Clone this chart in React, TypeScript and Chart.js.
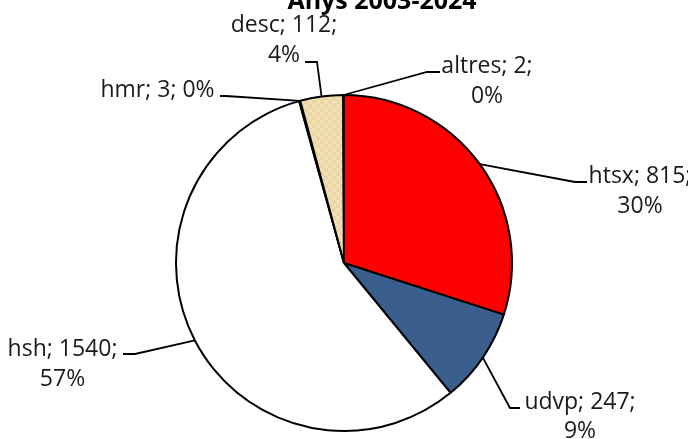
import React, { useEffect, useRef } from "react";
import { Chart, registerables } from "chart.js";

Chart.register(...registerables);

const TITLE = "Anys 2003-2024";
const CATEGORIES = ["htsx", "udvp", "hsh", "hmr", "desc", "altres"];
const VALUES = [815, 247, 1540, 3, 112, 2];

// label layout: elbow point, end point, text centre x, baselines, single-line flag
const LABEL_LAYOUT = [
  { elbow: [575, 182], end: [587, 182], cx: 640, base: [182.7, 213.3], single: false },
  { elbow: [510, 408], end: [520, 408], cx: 580, base: [409, 438], single: false },
  { elbow: [135, 354], end: [123, 354], cx: 62.5, base: [355.7, 386], single: false },
  { elbow: [226, 96], end: [220, 96], cx: 157.5, base: [96.7], single: true },
  { elbow: [317, 62], end: [305, 62], cx: 284, base: [31.7, 61.7], single: false },
  { elbow: [427, 72], end: [440, 72], cx: 487, base: [73, 103], single: false },
];

const FONT = "'Open Sans', 'Noto Sans', sans-serif";

function makePattern(): CanvasPattern | string {
  const c = document.createElement("canvas");
  c.width = 8;
  c.height = 8;
  const g = c.getContext("2d");
  if (!g) return "#EED8A6";
  g.fillStyle = "#ECD6A3";
  g.fillRect(0, 0, 8, 8);
  g.fillStyle = "#F1DFB5";
  g.fillRect(0, 0, 4, 4);
  g.fillRect(4, 4, 4, 4);
  const p = g.createPattern(c, "repeat");
  return p || "#EED8A6";
}

export default function App() {
  const ref = useRef<HTMLCanvasElement | null>(null);

  useEffect(() => {
    document.body.style.margin = "0";
    const canvas = ref.current;
    if (!canvas) return;
    const total = VALUES.reduce((a, b) => a + b, 0);

    const labelPlugin = {
      id: "pieLabels",
      afterDatasetsDraw(chart: any) {
        const ctx = chart.ctx;
        const meta = chart.getDatasetMeta(0);
        ctx.save();
        meta.data.forEach((arc: any, i: number) => {
          const p = arc.getProps(["x", "y", "startAngle", "endAngle", "outerRadius"], true);
          const mid = (p.startAngle + p.endAngle) / 2;
          const sx = p.x + Math.cos(mid) * p.outerRadius;
          const sy = p.y + Math.sin(mid) * p.outerRadius;
          const L = LABEL_LAYOUT[i];
          ctx.strokeStyle = "#000";
          ctx.lineWidth = 1.8;
          ctx.beginPath();
          ctx.moveTo(sx, sy);
          ctx.lineTo(L.elbow[0], L.elbow[1]);
          ctx.lineTo(L.end[0], L.end[1]);
          ctx.stroke();
          const pct = Math.round((VALUES[i] / total) * 100) + "%";
          const lines = L.single
            ? [`${CATEGORIES[i]}; ${VALUES[i]}; ${pct}`]
            : [`${CATEGORIES[i]}; ${VALUES[i]};`, pct];
          ctx.fillStyle = "#1a1a1a";
          ctx.font = `23px ${FONT}`;
          ctx.textAlign = "center";
          ctx.textBaseline = "alphabetic";
          lines.forEach((t, k) => ctx.fillText(t, L.cx, L.base[k]));
        });
        ctx.font = `bold 25px ${FONT}`;
        ctx.fillStyle = "#000";
        ctx.textAlign = "center";
        ctx.fillText(TITLE, 382, 8.5);
        ctx.restore();
      },
    };

    const chart = new Chart(canvas, {
      type: "pie",
      data: {
        labels: CATEGORIES,
        datasets: [
          {
            data: VALUES,
            backgroundColor: ["#FF0000", "#3A5F8E", "#FFFFFF", "#FFFFFF", makePattern() as any, "#FFFFFF"],
            borderColor: "#000000",
            borderWidth: 2,
          },
        ],
      },
      options: {
        animation: false,
        responsive: true,
        maintainAspectRatio: false,
        layout: { padding: { top: 94, bottom: 7, left: 100, right: 100 } },
        plugins: {
          legend: { display: false },
          tooltip: { enabled: false },
          title: { display: false },
        },
      },
      plugins: [labelPlugin],
    });
    return () => chart.destroy();
  }, []);

  return (
    <div style={{ position: "fixed", left: 0, top: 0, width: 688, height: 439, background: "#fff" }}>
      <canvas ref={ref} />
    </div>
  );
}
